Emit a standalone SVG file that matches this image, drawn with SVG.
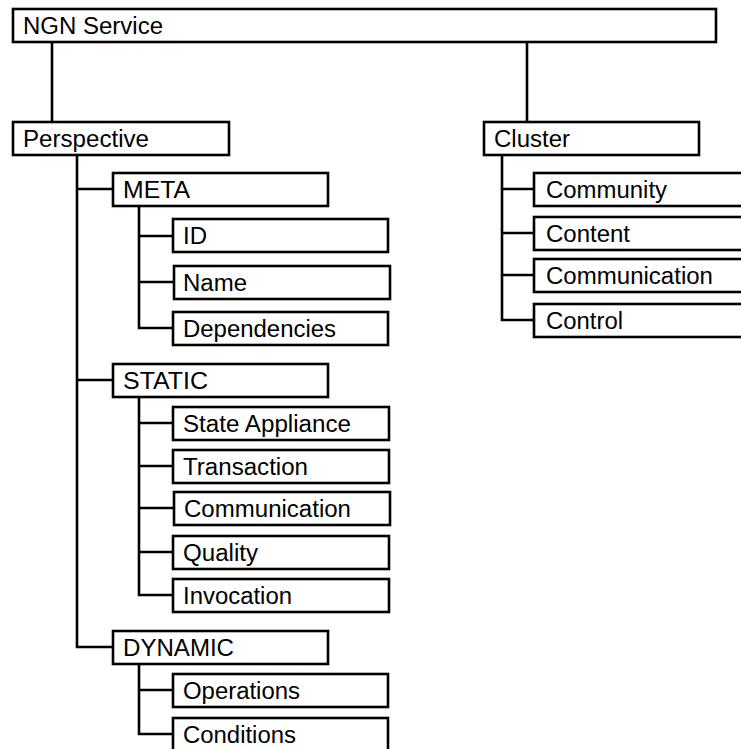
<svg xmlns="http://www.w3.org/2000/svg" width="741" height="749" viewBox="0 0 741 749">
<style>
.box{fill:#fff;stroke:#000;stroke-width:2.6}
.lbl{font-family:"Liberation Sans",Arial,sans-serif;font-size:23px;fill:#000}
.con{fill:none;stroke:#000;stroke-width:2.6}
</style>
<rect width="741" height="749" fill="#fff"/>
<g id="connectors">
<path class="con" d="M52,42V122"/>
<path class="con" d="M527,42V122"/>
<path class="con" d="M77,155V647H113M77,189H113M77,380H113"/>
<path class="con" d="M139,206V328H173M139,236H173M139,282H174"/>
<path class="con" d="M139,397V595H173M139,423H173M139,466H173M139,508H174M139,552H173"/>
<path class="con" d="M139,664V734H173M139,690H173"/>
<path class="con" d="M502,155V320H534M502,189H534M502,233H534M502,275H534"/>
</g>
<g id="ngn"><rect class="box" x="13" y="9" width="703" height="33"/><text class="lbl" x="23" y="34" textLength="140" lengthAdjust="spacingAndGlyphs">NGN Service</text></g>
<g id="perspective"><rect class="box" x="13" y="122" width="216" height="33"/><text class="lbl" x="23" y="147" textLength="126" lengthAdjust="spacingAndGlyphs">Perspective</text></g>
<g id="cluster"><rect class="box" x="484" y="122" width="215" height="33"/><text class="lbl" x="494" y="147" textLength="76" lengthAdjust="spacingAndGlyphs">Cluster</text></g>
<g id="community"><rect class="box" x="534" y="173" width="250" height="33"/><text class="lbl" x="546" y="198" textLength="121" lengthAdjust="spacingAndGlyphs">Community</text></g>
<g id="content"><rect class="box" x="534" y="217" width="250" height="33"/><text class="lbl" x="546" y="242" textLength="84" lengthAdjust="spacingAndGlyphs">Content</text></g>
<g id="communication-c"><rect class="box" x="534" y="259" width="250" height="33"/><text class="lbl" x="546" y="284" textLength="167" lengthAdjust="spacingAndGlyphs">Communication</text></g>
<g id="control"><rect class="box" x="534" y="304" width="250" height="33"/><text class="lbl" x="546" y="329" textLength="77" lengthAdjust="spacingAndGlyphs">Control</text></g>
<g id="meta"><rect class="box" x="113" y="173" width="215" height="33"/><text class="lbl" x="123" y="198" textLength="67" lengthAdjust="spacingAndGlyphs">META</text></g>
<g id="id"><rect class="box" x="173" y="219" width="215" height="33"/><text class="lbl" x="183" y="244" textLength="24" lengthAdjust="spacingAndGlyphs">ID</text></g>
<g id="name"><rect class="box" x="174" y="266" width="216" height="33"/><text class="lbl" x="183" y="291" textLength="64" lengthAdjust="spacingAndGlyphs">Name</text></g>
<g id="dependencies"><rect class="box" x="173" y="312" width="215" height="33"/><text class="lbl" x="183" y="337" textLength="153" lengthAdjust="spacingAndGlyphs">Dependencies</text></g>
<g id="static"><rect class="box" x="113" y="364" width="215" height="33"/><text class="lbl" x="123" y="389" textLength="85" lengthAdjust="spacingAndGlyphs">STATIC</text></g>
<g id="state-appliance"><rect class="box" x="173" y="407" width="216" height="33"/><text class="lbl" x="183" y="432" textLength="168" lengthAdjust="spacingAndGlyphs">State Appliance</text></g>
<g id="transaction"><rect class="box" x="173" y="450" width="216" height="33"/><text class="lbl" x="183" y="475" textLength="125" lengthAdjust="spacingAndGlyphs">Transaction</text></g>
<g id="communication-s"><rect class="box" x="174" y="492" width="216" height="33"/><text class="lbl" x="184" y="517" textLength="167" lengthAdjust="spacingAndGlyphs">Communication</text></g>
<g id="quality"><rect class="box" x="173" y="536" width="216" height="33"/><text class="lbl" x="183" y="561" textLength="75" lengthAdjust="spacingAndGlyphs">Quality</text></g>
<g id="invocation"><rect class="box" x="173" y="579" width="216" height="33"/><text class="lbl" x="183" y="604" textLength="109" lengthAdjust="spacingAndGlyphs">Invocation</text></g>
<g id="dynamic"><rect class="box" x="113" y="631" width="215" height="33"/><text class="lbl" x="123" y="656" textLength="111" lengthAdjust="spacingAndGlyphs">DYNAMIC</text></g>
<g id="operations"><rect class="box" x="173" y="674" width="215" height="33"/><text class="lbl" x="183" y="699" textLength="117" lengthAdjust="spacingAndGlyphs">Operations</text></g>
<g id="conditions"><rect class="box" x="173" y="718" width="215" height="45"/><text class="lbl" x="183" y="743" textLength="113" lengthAdjust="spacingAndGlyphs">Conditions</text></g>
</svg>
